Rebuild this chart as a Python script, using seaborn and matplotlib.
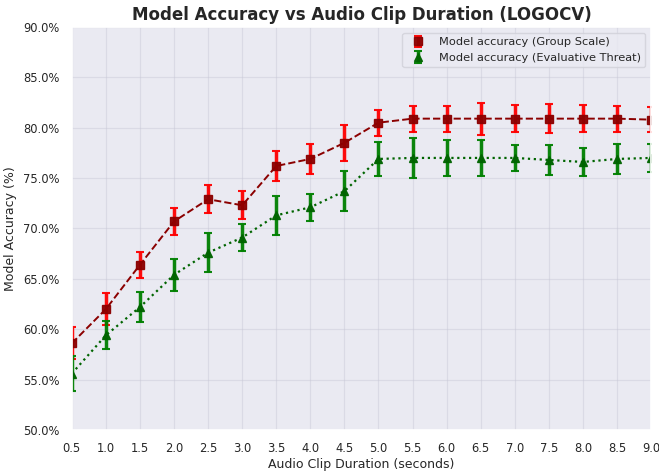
import matplotlib
matplotlib.use("Agg")
import matplotlib.pyplot as plt
import matplotlib.ticker as mticker
import seaborn as sns

# ── Data ──────────────────────────────────────────────────────────────────────
durations = [0.5, 1.0, 1.5, 2.0, 2.5, 3.0, 3.5, 4.0, 4.5,
             5.0, 5.5, 6.0, 6.5, 7.0, 7.5, 8.0, 8.5, 9.0]

group_acc = [58.6, 62.0, 66.4, 70.7, 72.9, 72.3, 76.2, 76.9, 78.5,
             80.5, 80.9, 80.9, 80.9, 80.9, 80.9, 80.9, 80.9, 80.8]
group_err = [1.6, 1.6, 1.3, 1.3, 1.4, 1.4, 1.5, 1.5, 1.8,
             1.3, 1.3, 1.3, 1.6, 1.35, 1.45, 1.35, 1.3, 1.25]

threat_acc = [55.6, 59.4, 62.2, 65.4, 67.6, 69.1, 71.3, 72.1, 73.7,
              76.9, 77.0, 77.0, 77.0, 77.0, 76.8, 76.6, 76.9, 77.0]
threat_err = [1.75, 1.4, 1.5, 1.6, 1.9, 1.35, 1.95, 1.35, 2.0,
              1.65, 2.0, 1.75, 1.8, 1.3, 1.5, 1.35, 1.5, 1.4]

# ── Style ─────────────────────────────────────────────────────────────────────
sns.set_theme(style="darkgrid")
plt.rcParams["font.family"] = ["DejaVu Sans"]

fig, ax = plt.subplots(figsize=(6.59, 4.73), dpi=100)
fig.subplots_adjust(left=0.109, right=0.988, top=0.943, bottom=0.091)

# connecting lines (no legend entry), then markers + error bars
ax.plot(durations, group_acc, "--", color="darkred", linewidth=1.4)
ax.plot(durations, threat_acc, ":", color="darkgreen", linewidth=1.6)

ax.errorbar(durations, group_acc, yerr=group_err,
            fmt="s", color="darkred", ecolor="red", elinewidth=2.5,
            capsize=3, capthick=1.5, markersize=6, alpha=0.95,
            label="Model accuracy (Group Scale)")
ax.errorbar(durations, threat_acc, yerr=threat_err,
            fmt="^", color="darkgreen", ecolor="green", elinewidth=2.5,
            capsize=3, capthick=1.5, markersize=6, alpha=0.95,
            label="Model accuracy (Evaluative Threat)")

ax.set_xlim(0.5, 9.0)
ax.set_ylim(50, 90)
ax.set_xticks(durations)
ax.xaxis.set_major_formatter(mticker.FormatStrFormatter("%.1f"))
ax.yaxis.set_major_locator(mticker.MultipleLocator(5))
ax.yaxis.set_major_formatter(mticker.FormatStrFormatter("%.1f%%"))
ax.tick_params(labelsize=8.3, pad=3)
ax.grid(True, color="#c4c4d2", alpha=0.4, linewidth=0.9)

ax.set_xlabel("Audio Clip Duration (seconds)", fontsize=9, labelpad=2)
ax.set_ylabel("Model Accuracy (%)", fontsize=9, labelpad=4)
ax.set_title("Model Accuracy vs Audio Clip Duration (LOGOCV)",
             fontsize=12, fontweight="bold", pad=5)
ax.legend(loc="upper right", fontsize=8.2, frameon=True, facecolor="#eaeaf2",
          edgecolor="#d0d0d8")

fig.savefig("out.png", dpi=100)
